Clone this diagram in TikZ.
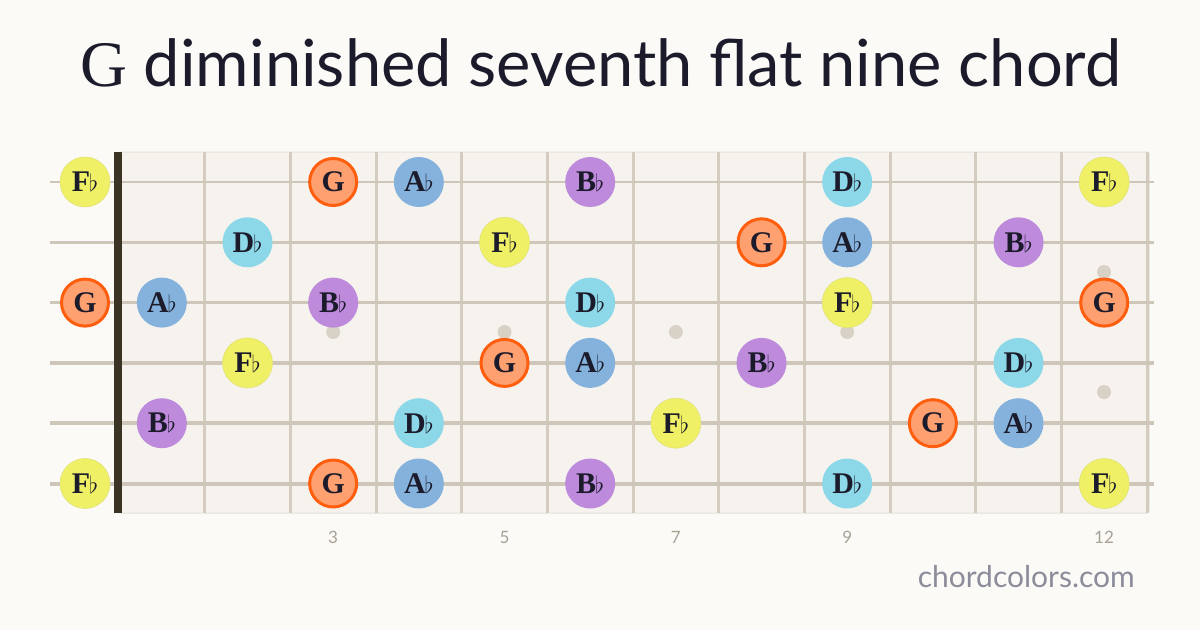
\documentclass[tikz,border=0pt]{standalone}
\usepackage{fontspec}
\newfontfamily\titlefont{Lato}
\newfontfamily\numfont{Lato}
\newfontfamily\notefont{Liberation Serif}
\definecolor{bg}{HTML}{FBFAF7}
\definecolor{board}{HTML}{F6F3EF}
\definecolor{boardedge}{HTML}{E4E0D9}
\definecolor{fretc}{HTML}{D4CCBF}
\definecolor{stringc}{HTML}{CEC6B8}
\definecolor{nutc}{HTML}{3B3424}
\definecolor{inlay}{HTML}{D8D1C5}
\definecolor{ink}{HTML}{1C1B2B}
\definecolor{numc}{HTML}{A8A195}
\definecolor{sitec}{HTML}{8C8C9A}
\definecolor{cF}{HTML}{EFF065}
\definecolor{cFb}{HTML}{E2E27A}
\definecolor{cD}{HTML}{8DD8E8}
\definecolor{cA}{HTML}{84B2DC}
\definecolor{cB}{HTML}{BE8ADC}
\definecolor{cG}{HTML}{FFA070}
\definecolor{cGb}{HTML}{FF5E0E}
\tikzset{
  x=1pt,y=-1pt,
  note/.style={circle,minimum size=50pt,inner sep=0pt,text=ink,font=\notefont\fontsize{30}{30}\selectfont\bfseries},
  nF/.style={note,fill=cF,draw=cFb,line width=0.6pt},
  nD/.style={note,fill=cD},
  nA/.style={note,fill=cA},
  nB/.style={note,fill=cB},
  nG/.style={note,fill=cG,draw=cGb,line width=3pt,minimum size=47pt},
  fretline/.style={draw=fretc,line width=3pt},
  dotmark/.style={circle,fill=inlay,minimum size=14pt,inner sep=0pt},
  fretnum/.style={text=numc,font=\numfont\fontsize{17}{17}\selectfont}
}
\newcommand{\fl}[1]{#1\kern-1pt\raisebox{0pt}{\scalebox{0.95}{$\flat$}}}
\begin{document}
\begin{tikzpicture}
\useasboundingbox (0,0) rectangle (1200,630);
\fill[bg] (0,0) rectangle (1200,630);
% title
\node[anchor=base,text=ink,inner sep=0pt] (title) at (601,86)
  {\fontsize{65}{65}\selectfont\notefont G\titlefont\ diminished seventh flat nine chord};
% board
\fill[board,draw=boardedge,line width=1pt,rounded corners=2pt] (118,152) rectangle (1149,513);
% frets
\foreach \i in {1,...,12}{
  \pgfmathsetmacro{\fx}{119+\i*85.67}
  \draw[fretline] (\fx,152) -- (\fx,513);
}
% inlays
\foreach \f in {3,5,7,9}{
  \pgfmathsetmacro{\dx}{119+(\f-0.5)*85.67}
  \node[dotmark] (dot\f) at (\dx,332) {};
  \node[fretnum] (num\f) at (\dx,537) {\f};
}
\node[dotmark] (dot12a) at (1104,272) {};
\node[dotmark] (dot12b) at (1104,392) {};
\node[fretnum] (num12) at (1104,537) {12};
% strings
\foreach \s/\w in {1/2.0,2/2.4,3/2.8,4/3.2,5/3.6,6/4.0}{
  \pgfmathsetmacro{\sy}{182+(\s-1)*60.3}
  \draw[stringc,line width=\w pt] (50,\sy) -- (1154,\sy);
}
% nut
\fill[nutc] (114,152) rectangle (122,513);
% notes
\foreach \s/\f/\st/\lab [count=\k] in {
 1/0/nF/{\fl{F}},1/3/nG/G,1/4/nA/{\fl{A}},1/6/nB/{\fl{B}},1/9/nD/{\fl{D}},1/12/nF/{\fl{F}},
 2/2/nD/{\fl{D}},2/5/nF/{\fl{F}},2/8/nG/G,2/9/nA/{\fl{A}},2/11/nB/{\fl{B}},
 3/0/nG/G,3/1/nA/{\fl{A}},3/3/nB/{\fl{B}},3/6/nD/{\fl{D}},3/9/nF/{\fl{F}},3/12/nG/G,
 4/2/nF/{\fl{F}},4/5/nG/G,4/6/nA/{\fl{A}},4/8/nB/{\fl{B}},4/11/nD/{\fl{D}},
 5/1/nB/{\fl{B}},5/4/nD/{\fl{D}},5/7/nF/{\fl{F}},5/10/nG/G,5/11/nA/{\fl{A}},
 6/0/nF/{\fl{F}},6/3/nG/G,6/4/nA/{\fl{A}},6/6/nB/{\fl{B}},6/9/nD/{\fl{D}},6/12/nF/{\fl{F}}}{
  \pgfmathsetmacro{\sy}{182+(\s-1)*60.3}
  \pgfmathsetmacro{\nx}{\f==0 ? 85 : 119+(\f-0.5)*85.67}
  \node[\st] (n\k) at (\nx,\sy) {\lab};
}
% footer
\node[anchor=base east,text=sitec,font=\titlefont\fontsize{30}{30}\selectfont,inner sep=0pt] (site) at (1135,587) {chordcolors.com};
\end{tikzpicture}
\end{document}
